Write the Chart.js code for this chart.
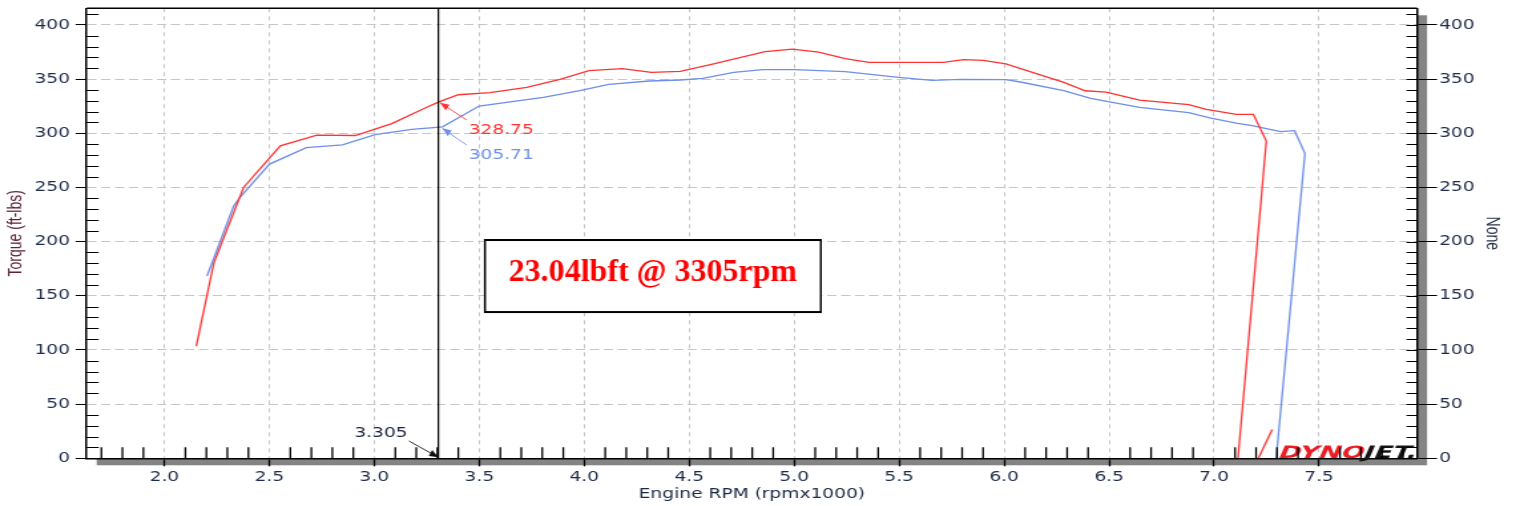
<!DOCTYPE html>
<html><head><meta charset="utf-8">
<script src="https://cdn.jsdelivr.net/npm/chart.js@4.4.0/dist/chart.umd.min.js"></script>
<style>
html,body{margin:0;padding:0;background:#fff;overflow:hidden;}
</style></head>
<body>
<canvas id="c" width="1140" height="506" style="width:1516px;height:506px;display:block"></canvas>
<script>
// ---- data ----
const redRpm = [2.152, 2.235, 2.377, 2.552, 2.726, 2.909, 3.083, 3.25, 3.305, 3.40, 3.551, 3.726, 3.884, 4.022, 4.181, 4.319, 4.457, 4.606, 4.861, 4.992, 5.116, 5.243, 5.356, 5.711, 5.806, 5.901, 6.008, 6.284, 6.386, 6.486, 6.645, 6.879, 6.963, 7.106, 7.187, 7.249, 7.114];
const redTorque = [103.6, 180, 250, 288.5, 298.4, 298, 309, 324, 328.75, 335.6, 337.5, 342.5, 349.8, 357.8, 359.7, 356.3, 357.2, 363.6, 375.4, 377.8, 375, 368.9, 365.5, 365.5, 368, 367.4, 364, 347, 339.3, 338.1, 330.7, 326.4, 322.1, 317.5, 317.5, 292.8, 0];
const redTailRpm = [7.211, 7.277];
const redTailTorque = [0, 26.5];
const blueRpm = [2.203, 2.33, 2.362, 2.501, 2.676, 2.848, 3.004, 3.178, 3.325, 3.499, 3.805, 3.979, 4.117, 4.309, 4.457, 4.564, 4.712, 4.85, 4.999, 5.243, 5.498, 5.657, 5.795, 6.008, 6.071, 6.284, 6.412, 6.645, 6.879, 6.985, 7.112, 7.182, 7.317, 7.384, 7.433, 7.296];
const blueTorque = [168.3, 232.8, 241.4, 271.6, 286.7, 289.4, 298.7, 303.6, 306.0, 325.2, 333.2, 339.3, 345.2, 348.3, 349.2, 350.7, 356.3, 358.7, 358.7, 356.9, 351.7, 348.9, 349.8, 349.5, 347.6, 339.3, 332.3, 324, 319, 314.1, 309.2, 307, 301.5, 302.4, 281.4, 0];
const xTicks = [2.0, 2.5, 3.0, 3.5, 4.0, 4.5, 5.0, 5.5, 6.0, 6.5, 7.0, 7.5];
const yTicks = [0, 50, 100, 150, 200, 250, 300, 350, 400];
const cursorRpm = 3.305;
const cursorRed = 328.75;
const cursorBlue = 305.71;
const boxText = '23.04lbft @ 3305rpm';
const boxRpm = [3.527, 5.127];
const boxTorque = [135, 201.5];
const xTitle = 'Engine RPM (rpmx1000)';
const yTitle = 'Torque (ft-lbs)';
const y2Title = 'None';

// ---- layout ----
const W = 1140, H = 506;
const S = 1516 / W;               // horizontal stretch applied by CSS
const AREA = {left: 65.2, right: 1065.6, top: 8.3, bottom: 458.3};
const RED = '#ff3333', BLUE = '#6e8fea';
const TICKC = '#1f2b4a';
const pts = (xs, ys) => xs.map((x, i) => ({x, y: ys[i]}));
const setTicks = arr => s => { s.ticks = arr.map(v => ({value: v})); };

function arrow(ctx, x1, y1, x2, y2, color) {
  ctx.save();
  ctx.scale(1 / S, 1);
  const X1 = x1 * S, X2 = x2 * S;
  ctx.strokeStyle = color; ctx.fillStyle = color; ctx.lineWidth = 1;
  ctx.beginPath(); ctx.moveTo(X1, y1); ctx.lineTo(X2, y2); ctx.stroke();
  const a = Math.atan2(y2 - y1, X2 - X1), L = 9, w = 3.5;
  const c = Math.cos(a), s = Math.sin(a);
  ctx.beginPath();
  ctx.moveTo(X2, y2);
  ctx.lineTo(X2 - L * c + w * s, y2 - L * s - w * c);
  ctx.lineTo(X2 - L * c - w * s, y2 - L * s + w * c);
  ctx.closePath(); ctx.fill();
  ctx.restore();
}

const deco = {
  id: 'deco',
  beforeDraw(chart) {
    const ctx = chart.ctx, a = chart.chartArea;
    ctx.save();
    ctx.fillStyle = '#fff'; ctx.fillRect(0, 0, chart.width, chart.height);
    ctx.fillStyle = '#848484';
    ctx.fillRect(a.left + 10 / S, a.top + 7, a.right - a.left, a.bottom - a.top);
    ctx.fillStyle = '#fff';
    ctx.fillRect(a.left, a.top, a.right - a.left, a.bottom - a.top);
    ctx.restore();
  },
  afterDraw(chart) {
    const ctx = chart.ctx, a = chart.chartArea;
    const xs = chart.scales.x, ys = chart.scales.y;
    ctx.save();
    // logo (drawn under the ticks)
    ctx.save();
    const targetW = 138 / S;
    ctx.font = 'bold 17px "DejaVu Sans"';
    const w1 = ctx.measureText('DYNO').width, w2 = ctx.measureText('JET.').width;
    const k = targetW / (w1 + w2);
    ctx.translate(a.right - 1.5 - targetW, a.bottom - 0.8);
    ctx.transform(k, 0, -0.28 * k, 1, 0, 0);
    ctx.textAlign = 'left'; ctx.textBaseline = 'alphabetic';
    ctx.fillStyle = '#ec1c24'; ctx.fillText('DYNO', 0, 0);
    ctx.fillStyle = '#141414'; ctx.fillText('JET.', w1, 0);
    ctx.restore();
    // borders
    ctx.strokeStyle = '#000'; ctx.lineWidth = 1.5;
    ctx.beginPath(); ctx.moveTo(a.left, a.top); ctx.lineTo(a.right, a.top); ctx.stroke();
    // minor ticks
    ctx.lineWidth = 1.1;
    ctx.beginPath();
    for (let v = 10; v <= 410; v += 10) {
      const py = Math.round(ys.getPixelForValue(v)) + 0.5;
      if (v % 50 !== 0) { ctx.moveTo(a.left, py); ctx.lineTo(a.left + 9, py); }
      ctx.moveTo(a.right, py); ctx.lineTo(a.right - 8, py);
    }
    ctx.stroke();
    ctx.lineWidth = 1.3;
    ctx.beginPath();
    for (let k = 17; k <= 79; k++) {
      if (k % 5 === 0) continue;
      const px = xs.getPixelForValue(k / 10);
      ctx.moveTo(px, a.bottom); ctx.lineTo(px, a.bottom - 11);
    }
    ctx.stroke();
    // cursor line
    ctx.lineWidth = 1.2;
    const cx = xs.getPixelForValue(cursorRpm);
    ctx.beginPath(); ctx.moveTo(cx, a.top); ctx.lineTo(cx, a.bottom); ctx.stroke();
    // cursor labels
    ctx.font = '14px "DejaVu Sans"';
    ctx.textBaseline = 'alphabetic'; ctx.textAlign = 'left';
    const pyR = ys.getPixelForValue(cursorRed), pyB = ys.getPixelForValue(cursorBlue);
    ctx.fillStyle = RED;
    ctx.fillText(cursorRed.toFixed(2), cx + 30.3 / S, pyR + 32.1);
    arrow(ctx, cx + 28.3 / S, pyR + 17.8, cx + 1.7 / S, pyR + 0.5, RED);
    ctx.fillStyle = BLUE;
    ctx.fillText(cursorBlue.toFixed(2), cx + 30.3 / S, pyB + 32.2);
    arrow(ctx, cx + 28.3 / S, pyB + 17.9, cx + 4 / S, pyB + 1.2, BLUE);
    ctx.fillStyle = '#1c2440'; ctx.textAlign = 'center';
    ctx.fillText(cursorRpm.toFixed(3), cx - 57.4 / S, a.bottom - 21.3);
    arrow(ctx, cx - 29.4 / S, a.bottom - 17.3, cx, a.bottom - 1, '#111');
    // text box
    const bx1 = xs.getPixelForValue(boxRpm[0]), bx2 = xs.getPixelForValue(boxRpm[1]);
    const by1 = ys.getPixelForValue(boxTorque[1]), by2 = ys.getPixelForValue(boxTorque[0]);
    ctx.fillStyle = '#fff'; ctx.fillRect(bx1, by1, bx2 - bx1, by2 - by1);
    ctx.strokeStyle = '#000'; ctx.lineWidth = 2;
    ctx.save(); ctx.scale(1 / S, 1);
    ctx.strokeRect(bx1 * S, by1, (bx2 - bx1) * S, by2 - by1);
    ctx.font = 'bold 32px "Liberation Serif"';
    ctx.fillStyle = '#ff0000'; ctx.textAlign = 'center'; ctx.textBaseline = 'alphabetic';
    ctx.fillText(boxText, (bx1 + bx2) / 2 * S, by1 + 41);
    ctx.restore();
    ctx.restore();
  }
};

const tickFont = {family: 'DejaVu Sans', size: 14};
new Chart(document.getElementById('c'), {
  type: 'scatter',
  data: {
    datasets: [
      {data: pts(redRpm, redTorque), showLine: true, borderColor: RED, borderWidth: 1.3, pointRadius: 0, tension: 0},
      {data: pts(redTailRpm, redTailTorque), showLine: true, borderColor: RED, borderWidth: 1.3, pointRadius: 0, tension: 0},
      {data: pts(blueRpm, blueTorque), showLine: true, borderColor: BLUE, borderWidth: 1.3, pointRadius: 0, tension: 0}
    ]
  },
  options: {
    responsive: false, animation: false, devicePixelRatio: 1,
    events: [],
    layout: {padding: {top: AREA.top, left: 0, right: 0, bottom: 0}},
    plugins: {legend: {display: false}, tooltip: {enabled: false}},
    scales: {
      x: {
        type: 'linear', position: 'bottom', min: 1.63, max: 7.967,
        afterBuildTicks: setTicks(xTicks),
        afterFit: s => { s.height = H - AREA.bottom; s.paddingLeft = 0; s.paddingRight = 0; },
        grid: {color: '#c6c6c6', lineWidth: 1, drawTicks: true, tickLength: 8, tickColor: '#000', tickWidth: 1.3},
        border: {display: true, color: '#000', width: 1.5, dash: [4, 4]},
        ticks: {font: tickFont, color: TICKC, padding: 2.3, maxRotation: 0, autoSkip: false, callback: v => Number(v).toFixed(1)},
        title: {display: true, text: xTitle, font: {family: 'DejaVu Sans', size: 14}, color: '#1d2a44', padding: {top: 0, bottom: 3.6}}
      },
      y: {
        type: 'linear', position: 'left', min: 0, max: 415.4,
        afterBuildTicks: setTicks(yTicks),
        afterFit: s => { s.width = AREA.left; s.paddingTop = 0; s.paddingBottom = 0; },
        grid: {color: '#c6c6c6', lineWidth: 1, drawTicks: true, tickLength: 8.3, tickColor: '#000', tickWidth: 1},
        border: {display: true, color: '#000', width: 1.5, dash: [7, 3.5]},
        ticks: {font: tickFont, color: TICKC, padding: 4.3, autoSkip: false, callback: v => String(v)},
        title: {display: true, text: yTitle, font: {family: 'Liberation Sans', size: 14}, color: '#5b2333', padding: {top: 3.6, bottom: 0}}
      },
      y2: {
        type: 'linear', position: 'right', min: 0, max: 415.4,
        afterBuildTicks: setTicks(yTicks),
        afterFit: s => { s.width = W - AREA.right; s.paddingTop = 0; s.paddingBottom = 0; },
        grid: {drawOnChartArea: false, drawTicks: true, tickLength: 15, tickColor: '#000', tickWidth: 1},
        border: {display: true, color: '#000', width: 1.5},
        ticks: {font: tickFont, color: TICKC, padding: 1.6, autoSkip: false, callback: v => String(v)},
        title: {display: true, text: y2Title, font: {family: 'Liberation Sans', size: 14}, color: '#2d3348', padding: {top: 9.8, bottom: 0}}
      }
    }
  },
  plugins: [deco]
});
</script>
</body></html>
